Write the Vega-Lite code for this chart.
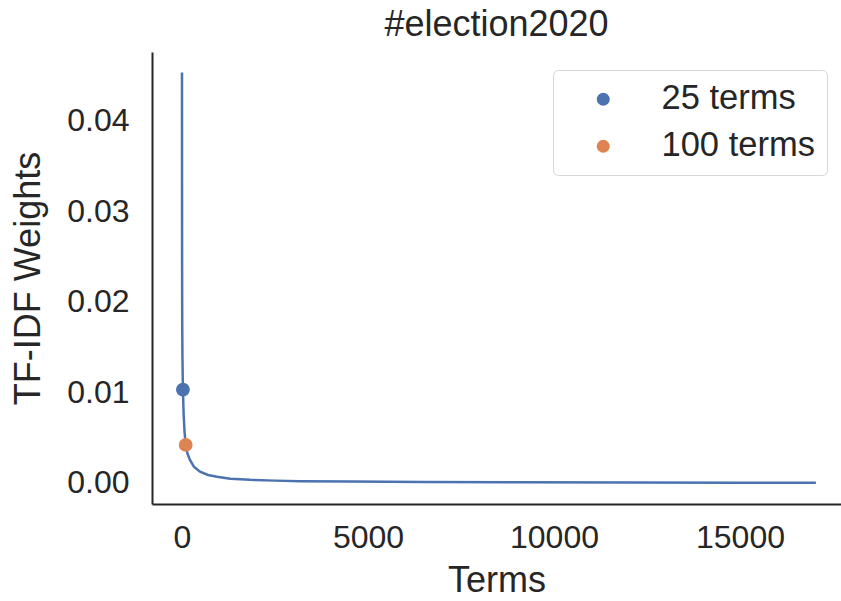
{
  "$schema": "https://vega.github.io/schema/vega-lite/v6.json",
  "autosize": "none",
  "width": 689,
  "height": 452,
  "padding": {"left": 152, "top": 52, "right": 0, "bottom": 97},
  "background": "white",
  "title": {"text": "#election2020", "fontSize": 36, "font": "Liberation Sans", "fontWeight": "normal", "color": "#262626", "offset": 8},
  "config": {
    "view": {"stroke": null},
    "font": "Liberation Sans",
    "axis": {"domainColor": "#262626", "domainWidth": 2, "ticks": false, "grid": false, "labelFont": "Liberation Sans", "labelFontSize": 32, "labelColor": "#262626", "titleFont": "Liberation Sans", "titleFontSize": 36, "titleFontWeight": "normal", "titleColor": "#262626"},
    "legend": {"labelFont": "Liberation Sans", "labelFontSize": 34.5, "labelColor": "#262626"}
  },
  "datasets": {
    "curve": [
      {"rank": 0, "weight": 0.0453},
      {"rank": 1, "weight": 0.033},
      {"rank": 3, "weight": 0.024},
      {"rank": 6, "weight": 0.018},
      {"rank": 12, "weight": 0.0140},
      {"rank": 25, "weight": 0.0103},
      {"rank": 45, "weight": 0.0075},
      {"rank": 70, "weight": 0.0056},
      {"rank": 100, "weight": 0.0042},
      {"rank": 150, "weight": 0.0032},
      {"rank": 215, "weight": 0.00254},
      {"rank": 320, "weight": 0.0018},
      {"rank": 484, "weight": 0.00125},
      {"rank": 700, "weight": 0.00088},
      {"rank": 940, "weight": 0.00068},
      {"rank": 1300, "weight": 0.00048},
      {"rank": 1830, "weight": 0.00035},
      {"rank": 2500, "weight": 0.00026},
      {"rank": 3170, "weight": 0.0002},
      {"rank": 4520, "weight": 0.00015},
      {"rank": 6500, "weight": 0.00011},
      {"rank": 9000, "weight": 0.00008},
      {"rank": 12000, "weight": 0.00005},
      {"rank": 15000, "weight": 0.00003},
      {"rank": 17040, "weight": 0.00002}
    ],
    "marks": [
      {"rank": 25, "weight": 0.0103, "label": "25 terms"},
      {"rank": 100, "weight": 0.0042, "label": "100 terms"}
    ]
  },
  "layer": [
    {
      "data": {"name": "curve"},
      "mark": {"type": "line", "color": "#4c72b0", "strokeWidth": 2.5, "clip": true},
      "encoding": {
        "x": {"field": "rank", "type": "quantitative", "scale": {"domain": [-806, 17715], "nice": false, "zero": false},
              "axis": {"title": "Terms", "values": [0, 5000, 10000, 15000], "format": "d", "labelPadding": 18, "titlePadding": 10}},
        "y": {"field": "weight", "type": "quantitative", "scale": {"domain": [-0.00232, 0.04757], "nice": false, "zero": false},
              "axis": {"title": "TF-IDF Weights", "values": [0, 0.01, 0.02, 0.03, 0.04], "format": ".2f", "labelPadding": 23, "titlePadding": 19}}
      }
    },
    {
      "data": {"name": "marks"},
      "mark": {"type": "point", "filled": true, "opacity": 1, "size": 190},
      "encoding": {
        "x": {"field": "rank", "type": "quantitative"},
        "y": {"field": "weight", "type": "quantitative"},
        "color": {"field": "label", "type": "nominal", "sort": ["25 terms", "100 terms"],
                  "scale": {"domain": ["25 terms", "100 terms"], "range": ["#4c72b0", "#dd8452"]},
                  "legend": {"title": null, "orient": "none", "legendX": 401, "legendY": 18, "padding": 12, "symbolOffset": 21, "labelOffset": 41, "rowPadding": 12, "symbolSize": 169, "symbolType": "circle", "strokeColor": "#d6d6d6", "fillColor": "white", "cornerRadius": 5, "symbolStrokeWidth": 0, "symbolOpacity": 1}}
      }
    }
  ]
}
